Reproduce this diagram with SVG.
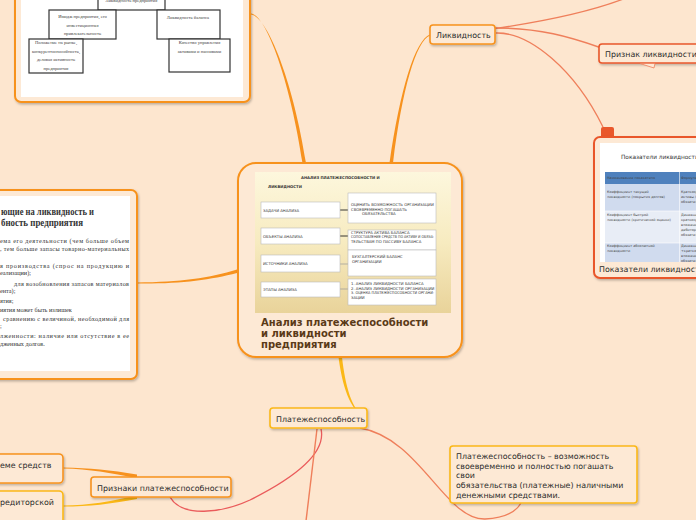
<svg xmlns="http://www.w3.org/2000/svg" width="696" height="520" viewBox="0 0 696 520">
<style>
.bg{fill:#fde6cf}
.lbl{font-family:"DejaVu Sans",sans-serif;font-size:7.9px;fill:#2b2b2b}
.nd{fill:#fde9d5;stroke-width:1.6}
.or{stroke:#f7921e}
.ye{stroke:#fbb817}
.rd{stroke:#e9572b}
.ser{font-family:"Liberation Serif",serif;fill:#333}
.tiny{font-family:"Liberation Serif",serif;font-size:4.6px;fill:#444}
.org{fill:#fff;stroke:#333;stroke-width:1.2}
.img{font-family:"DejaVu Sans",sans-serif;font-size:3.8px;fill:#333}
.ibox{fill:#fff;stroke:#bbb;stroke-width:0.6}
.tb{font-family:"DejaVu Sans",sans-serif;font-size:3.4px;fill:#444}
</style>
<defs>
<filter id="sh" x="-10%" y="-10%" width="130%" height="140%">
<feDropShadow dx="1" dy="1.5" stdDeviation="0.8" flood-color="#000" flood-opacity="0.25"/>
</filter>
<linearGradient id="gimg" x1="0" y1="0" x2="0" y2="1">
<stop offset="0" stop-color="#fdf7dd"/>
<stop offset="0.5" stop-color="#f7ebc0"/>
<stop offset="1" stop-color="#e9d39a"/>
</linearGradient>
<clipPath id="cpP"><rect x="600" y="143" width="96" height="119"/></clipPath>
</defs>
<rect class="bg" x="0" y="0" width="696" height="520"/>

<g id="connectors">
<path d="M251 13.5 C266 15 290 80 302.5 163 L306 163 C293 80 267 16 251 14.5 Z" fill="#f7921e"/>
<path d="M430 34.5 C415 40 400 90 389.5 163 L393 163 C402 90 416 41 430 35.5 Z" fill="#f7921e"/>
<path d="M137 282.5 C180 282 210 278 237 269.5 L237 273 C210 280 180 284 137 283.5 Z" fill="#f7921e"/>
<path d="M338.5 357 C342 385 350 410 364 417 C352 410 345 385 342 357 Z" fill="#fbb817"/>
<path d="M495 28.5 C540 22 590 12 626 -2" fill="none" stroke="#ef7f5b" stroke-width="1.3"/>
<path d="M495 28 C540 28 570 37 600 47.5" fill="none" stroke="#ef7f5b" stroke-width="1.5"/>
<path d="M496 33 C530 32 575 70 603 127" fill="none" stroke="#ef7f5b" stroke-width="1.3"/>
<path d="M63 467.5 C90 468 110 470 137 474.5 L137 478 C110 473 90 469 63 468.5 Z" fill="#f7921e"/>
<path d="M63 505.5 C90 505 110 502 137 495 L137 499 C110 504 90 506.5 63 506.5 Z" fill="#fbb817"/>
<path d="M321 429 C327 455 290 480 250 500 C222 513 182 518 170 497" fill="none" stroke="#ea5b5b" stroke-width="1.3"/>
<path d="M317 429 L306 521" fill="none" stroke="#ef7f5b" stroke-width="1.4"/>
<path d="M360 428 C420 438 445 520 485 519 C508 518 517 510 521 503" fill="none" stroke="#ef7f5b" stroke-width="1.3"/>
</g>

<g id="node-top-left">
<rect x="15" y="-60" width="235" height="162" rx="6" fill="#fde9d5" stroke="#f7921e" stroke-width="2" filter="url(#sh)"/>
<rect x="21" y="-60" width="222" height="157" fill="#fff"/>
<rect class="org" x="98" y="-20" width="67" height="30"/>
<text class="tiny" x="131.5" y="2" text-anchor="middle">Ликвидность предприятия</text>
<rect class="org" x="49" y="10" width="67" height="29"/>
<text class="tiny" x="82.5" y="18" text-anchor="middle">Имидж предприятия, его</text>
<text class="tiny" x="82.5" y="27" text-anchor="middle">инвестиционная</text>
<text class="tiny" x="82.5" y="35" text-anchor="middle">привлекательность</text>
<rect class="org" x="157" y="10" width="63" height="29"/>
<text class="tiny" x="188" y="19" text-anchor="middle">Ликвидность баланса</text>
<rect class="org" x="29" y="39" width="54" height="34"/>
<text class="tiny" x="56" y="44" text-anchor="middle">Положение на рынке,</text>
<text class="tiny" x="56" y="52.5" text-anchor="middle">конкурентоспособность,</text>
<text class="tiny" x="56" y="61" text-anchor="middle">деловая активность</text>
<text class="tiny" x="56" y="69.5" text-anchor="middle">предприятия</text>
<rect class="org" x="169" y="39" width="61" height="33"/>
<text class="tiny" x="199.5" y="44" text-anchor="middle">Качество управления</text>
<text class="tiny" x="199.5" y="52.5" text-anchor="middle">активами и пассивами</text>
</g>

<g id="node-left">
<rect x="-20" y="190" width="157" height="189" rx="6" fill="#fde9d5" stroke="#f7921e" stroke-width="2" filter="url(#sh)"/>
<rect x="-20" y="196" width="150" height="175" fill="#fff"/>
<text class="ser" font-size="9.5" font-weight="bold" x="1" y="215" textLength="93" lengthAdjust="spacingAndGlyphs">ющие на ликвидность и</text>
<text class="ser" font-size="9.5" font-weight="bold" x="1" y="226" textLength="82" lengthAdjust="spacingAndGlyphs">бность предприятия</text>
<g class="ser" font-size="6.2">
<text x="0" y="243" textLength="129" lengthAdjust="spacing">ема его деятельности (чем больше объем</text>
<text x="0" y="251" textLength="129" lengthAdjust="spacing">, тем больше запасы товарно-материальных</text>
<text x="0" y="268" textLength="129" lengthAdjust="spacing">я производства (спрос на продукцию и</text>
<text x="0" y="275">еализации);</text>
<text x="14" y="286" textLength="115" lengthAdjust="spacing">для возобновления запасов материалов</text>
<text x="0" y="293">ента);</text>
<text x="0" y="302.5">ятия;</text>
<text x="0" y="312">иятия может быть излишек</text>
<text x="3" y="321" textLength="126" lengthAdjust="spacing">сравнению с величиной, необходимой для</text>
<text x="0" y="327.5">;</text>
<text x="0" y="338" textLength="129" lengthAdjust="spacing">лженности: наличие или отсутствие в ее</text>
<text x="0" y="346">дженных долгов.</text>
</g>
</g>

<g id="node-central">
<rect x="238" y="163" width="224" height="194" rx="18" fill="#fde9d5" stroke="#f7921e" stroke-width="2" filter="url(#sh)"/>
<rect x="255" y="172" width="196" height="141" fill="url(#gimg)"/>
<text class="img" font-weight="bold" x="301" y="178.5">АНАЛИЗ ПЛАТЕЖЕСПОСОБНОСТИ И</text>
<text class="img" font-weight="bold" x="268" y="187.5">ЛИКВИДНОСТИ</text>
<line x1="340" y1="210" x2="348" y2="210" stroke="#222" stroke-width="0.9"/>
<line x1="340" y1="236" x2="348" y2="236" stroke="#222" stroke-width="0.9"/>
<line x1="340" y1="264" x2="348" y2="264" stroke="#999" stroke-width="0.7"/>
<line x1="340" y1="289" x2="348" y2="289" stroke="#999" stroke-width="0.7"/>
<rect class="ibox" x="261" y="202" width="79" height="16"/>
<text class="img" x="263" y="211.5">ЗАДАЧИ АНАЛИЗА</text>
<rect class="ibox" x="348" y="193" width="88" height="30"/>
<text class="img" font-size="3.3" x="351" y="206">ОЦЕНИТЬ ВОЗМОЖНОСТЬ ОРГАНИЗАЦИИ</text>
<text class="img" font-size="3.3" x="351" y="210.5">СВОЕВРЕМЕННО ПОГАШАТЬ</text>
<text class="img" font-size="3.3" x="362" y="215">ОБЯЗАТЕЛЬСТВА</text>
<rect class="ibox" x="261" y="228" width="79" height="16"/>
<text class="img" x="263" y="237.5">ОБЪЕКТЫ АНАЛИЗА</text>
<rect class="ibox" x="348" y="230" width="88" height="20"/>
<text class="img" font-size="3.3" x="351" y="233.5">СТРУКТУРА АКТИВА БАЛАНСА</text>
<text class="img" font-size="3.3" x="351" y="238" textLength="83" lengthAdjust="spacingAndGlyphs">СОПОСТАВЛЕНИЕ СРЕДСТВ ПО АКТИВУ И ОБЯЗА-</text>
<text class="img" font-size="3.3" x="351" y="242.5">ТЕЛЬСТВАМ ПО ПАССИВУ БАЛАНСА</text>
<rect class="ibox" x="261" y="255" width="79" height="17"/>
<text class="img" x="263" y="265">ИСТОЧНИКИ АНАЛИЗА</text>
<rect class="ibox" x="348" y="250" width="88" height="26"/>
<text class="img" font-size="3.3" x="352" y="257.5">БУХГАЛТЕРСКИЙ БАЛАНС</text>
<text class="img" font-size="3.3" x="352" y="262.5">ОРГАНИЗАЦИИ</text>
<rect class="ibox" x="261" y="282" width="79" height="15"/>
<text class="img" x="263" y="291">ЭТАПЫ АНАЛИЗА</text>
<rect class="ibox" x="348" y="279" width="88" height="26"/>
<text class="img" font-size="3.3" x="351" y="285">1. АНАЛИЗ ЛИКВИДНОСТИ БАЛАНСА</text>
<text class="img" font-size="3.3" x="351" y="289.5">2. АНАЛИЗ ЛИКВИДНОСТИ ОРГАНИЗАЦИИ</text>
<text class="img" font-size="3.3" x="351" y="294" textLength="83" lengthAdjust="spacingAndGlyphs">3. ОЦЕНКА ПЛАТЕЖЕСПОСОБНОСТИ ОРГАНИ-</text>
<text class="img" font-size="3.3" x="351" y="298.5">ЗАЦИИ</text>
<g font-family="DejaVu Sans,sans-serif" font-size="10" font-weight="bold" fill="#5a3a18">
<text x="261" y="325.5">Анализ платежеспособности</text>
<text x="261" y="336.5">и ликвидности</text>
<text x="261" y="347.5">предприятия</text>
</g>
</g>

<g id="node-likvidnost">
<rect class="nd or" x="430" y="25" width="65" height="19" rx="3" filter="url(#sh)"/>
<text class="lbl" x="436" y="38">Ликвидность</text>
</g>

<g id="node-priznak-likv">
<rect class="nd" x="599" y="44" width="110" height="19" rx="3" stroke="#e9572b" filter="url(#sh)"/>
<path d="M640 63.5 L655 63.5 L654 68 Z" fill="#fde9d5" stroke="#ef7f5b" stroke-width="0.8"/>
<text class="lbl" x="605" y="57">Признак ликвидности</text>
</g>

<g id="node-pokazateli">
<path d="M601 138 L601 129 Q601 127 603 127 L612 127 Q614 127 614 129 L614 138 Z" fill="#e9572b"/>
<rect x="594" y="137" width="120" height="141" rx="6" fill="#fde9d5" stroke="#e9572b" stroke-width="2" filter="url(#sh)"/>
<rect x="600" y="143" width="96" height="119" fill="#fff"/>
<g clip-path="url(#cpP)">
<text font-family="DejaVu Sans,sans-serif" font-size="5.8" fill="#333" x="621" y="158.5">Показатели ликвидности</text>
<rect x="605" y="172" width="100" height="12" fill="#4f81bd"/>
<rect x="605" y="184" width="100" height="27" fill="#d0dbee"/>
<rect x="605" y="211" width="100" height="32" fill="#e8edf6"/>
<rect x="605" y="243" width="100" height="20" fill="#d0dbee"/>
<line x1="679.5" y1="172" x2="679.5" y2="263" stroke="#fff" stroke-width="0.6"/>
<line x1="605" y1="211" x2="705" y2="211" stroke="#fff" stroke-width="0.6"/>
<line x1="605" y1="243" x2="705" y2="243" stroke="#fff" stroke-width="0.6"/>
<text class="tb" fill="#fff" x="607" y="179">Наименование показателя</text>
<text class="tb" fill="#fff" x="681" y="179">Формула</text>
<text class="tb" x="607" y="193">Коэффициент текущей</text>
<text class="tb" x="607" y="198">ликвидности (покрытия долгов)</text>
<text class="tb" x="681" y="193">Краткосрочные</text>
<text class="tb" x="681" y="198">активы /</text>
<text class="tb" x="681" y="203">обязательства</text>
<text class="tb" x="607" y="216">Коэффициент быстрой</text>
<text class="tb" x="607" y="221">ликвидности (критической оценки)</text>
<text class="tb" x="681" y="216">Денежные</text>
<text class="tb" x="681" y="221">краткосрочные</text>
<text class="tb" x="681" y="226">вложения +</text>
<text class="tb" x="681" y="231">дебиторская</text>
<text class="tb" x="681" y="236">обязательства</text>
<text class="tb" x="607" y="247">Коэффициент абсолютной</text>
<text class="tb" x="607" y="252">ликвидности</text>
<text class="tb" x="681" y="247">Денежные</text>
<text class="tb" x="681" y="252">+краткосрочные</text>
<text class="tb" x="681" y="257">вложения /</text>
<text class="tb" x="681" y="262">обязательства</text>
</g>
<text class="lbl" x="599" y="271.5">Показатели ликвидности</text>
</g>

<g id="node-platezh">
<rect class="nd ye" x="270" y="408" width="97" height="20" rx="3" filter="url(#sh)"/>
<text class="lbl" x="276" y="421.5">Платежеспособность</text>
</g>

<g id="node-definition">
<rect class="nd ye" x="450" y="446" width="187" height="57" rx="3" filter="url(#sh)"/>
<text class="lbl" x="456" y="459">Платежеспособность – возможность</text>
<text class="lbl" x="456" y="468.7">своевременно и полностью погашать</text>
<text class="lbl" x="456" y="478.3">свои</text>
<text class="lbl" x="456" y="488">обязательства (платежные) наличными</text>
<text class="lbl" x="456" y="497.6">денежными средствами.</text>
</g>

<g id="node-priznaki-platezh">
<rect class="nd or" x="91" y="477" width="140" height="20" rx="3" filter="url(#sh)"/>
<text class="lbl" x="97" y="490.5">Признаки платежеспособности</text>
</g>

<g id="node-sredstv">
<rect class="nd or" x="-10" y="454" width="73" height="29" rx="4" filter="url(#sh)"/>
<text class="lbl" x="0" y="467.5">еме средств</text>
</g>

<g id="node-kreditorskoy">
<rect class="nd ye" x="-10" y="491" width="73" height="40" rx="4" filter="url(#sh)"/>
<text class="lbl" x="0" y="505">редиторской</text>
</g>
</svg>
